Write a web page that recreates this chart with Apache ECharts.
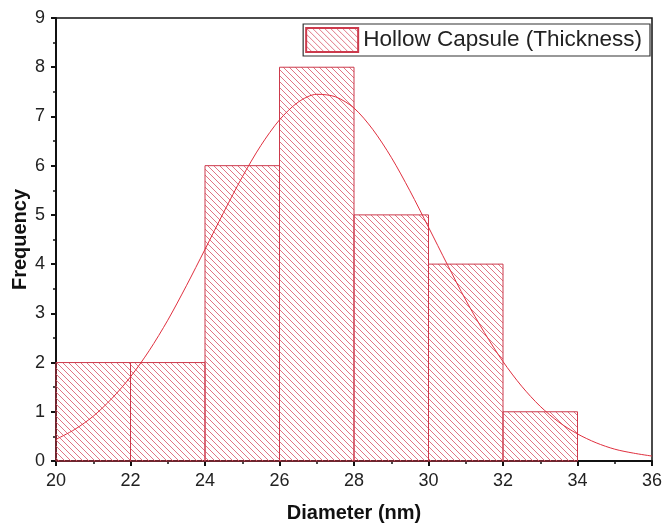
<!DOCTYPE html>
<html>
<head>
<meta charset="utf-8">
<script src="https://cdn.jsdelivr.net/npm/echarts@6/dist/echarts.min.js"></script>
<style>
  html, body { margin: 0; padding: 0; background: #fff; }
  #chart { width: 666px; height: 530px; }
</style>
</head>
<body>
<div id="chart"></div>
<script>
// Histogram bins (nm) and counts
const binStarts = [20, 22, 24, 26, 28, 30, 32];
const binWidth = 2;
const counts = [2, 2, 6, 8, 5, 4, 1];

// Gaussian fit curve, sampled along the diameter axis
const fitX = [20, 20.5, 21, 21.5, 22, 22.5, 23, 23.5, 24, 24.5, 25, 25.5, 26, 26.5, 27, 27.5,
              28, 28.5, 29, 29.5, 30, 30.5, 31, 31.5, 32, 32.5, 33, 33.5, 34, 34.5, 35, 35.5, 36];
const fitY = [0.44, 0.64, 0.91, 1.27, 1.71, 2.24, 2.86, 3.56, 4.30, 5.05, 5.77, 6.41, 6.93, 7.29, 7.45, 7.40,
              7.17, 6.74, 6.17, 5.49, 4.75, 4.00, 3.27, 2.61, 2.02, 1.52, 1.11, 0.79, 0.55, 0.37, 0.24, 0.16, 0.10];

const xTicks = { min: 20, max: 36, interval: 2 };
const yTicks = { min: 0, max: 9, interval: 1 };

const seriesName = 'Hollow Capsule (Thickness)';

// Diagonal hatch tile for the bars
function makeHatch() {
  const c = document.createElement('canvas');
  const s = 6;
  c.width = s; c.height = s;
  const g = c.getContext('2d');
  g.strokeStyle = 'rgba(222,110,125,0.95)';
  g.lineWidth = 1;
  g.beginPath();
  g.moveTo(-1, -1); g.lineTo(s + 1, s + 1);
  g.moveTo(-1, s - 1); g.lineTo(1, s + 1);
  g.moveTo(s - 1, -1); g.lineTo(s + 1, 1);
  g.stroke();
  return c;
}
const hatch = { image: makeHatch(), repeat: 'repeat' };

const barData = binStarts.map((x, i) => [x, x + binWidth, counts[i]]);
const fitData = fitX.map((x, i) => [x, fitY[i]]);

const chart = echarts.init(document.getElementById('chart'), null, { renderer: 'canvas' });

const fontFamily = 'Liberation Sans, Arial, sans-serif';
const axisText = { color: '#222', fontSize: 18, fontFamily: fontFamily };
const nameText = { color: '#111', fontSize: 20, fontWeight: 'bold', fontFamily: fontFamily };

chart.setOption({
  animation: false,
  backgroundColor: '#fff',
  grid: {
    left: 56, right: 14, top: 18, bottom: 69,
    outerBoundsMode: 'none',
    containLabel: false,
    show: true, borderColor: '#111', borderWidth: 1.5, backgroundColor: 'transparent'
  },
  legend: {
    data: [{ name: seriesName, icon: 'rect' }],
    right: 16, top: 24,
    orient: 'horizontal',
    padding: [3, 8, 3, 2],
    itemWidth: 52, itemHeight: 24,
    borderColor: '#333', borderWidth: 1.2,
    backgroundColor: '#fff',
    textStyle: { fontSize: 22.5, color: '#222', fontFamily: fontFamily }
  },
  xAxis: {
    type: 'value',
    min: xTicks.min, max: xTicks.max, interval: xTicks.interval,
    name: 'Diameter (nm)', nameLocation: 'middle', nameGap: 42,
    nameMoveOverlap: false,
    nameTextStyle: nameText,
    axisLine: { show: true, onZero: false, lineStyle: { color: '#111', width: 2 } },
    axisTick: { show: true, inside: false, length: 5, lineStyle: { color: '#111', width: 2 } },
    minorTick: { show: true, splitNumber: 2, length: 3, lineStyle: { color: '#111', width: 1.5 } },
    axisLabel: Object.assign({ margin: 11 }, axisText),
    splitLine: { show: false }
  },
  yAxis: {
    type: 'value',
    min: yTicks.min, max: yTicks.max, interval: yTicks.interval,
    name: 'Frequency', nameLocation: 'middle', nameGap: 26,
    nameMoveOverlap: false,
    nameTextStyle: nameText,
    axisLine: { show: true, onZero: false, lineStyle: { color: '#111', width: 2 } },
    axisTick: { show: true, inside: false, length: 5, lineStyle: { color: '#111', width: 2 } },
    minorTick: { show: true, splitNumber: 2, length: 3, lineStyle: { color: '#111', width: 1.5 } },
    axisLabel: Object.assign({ margin: 11 }, axisText),
    splitLine: { show: false }
  },
  series: [
    {
      name: seriesName,
      type: 'custom',
      itemStyle: { color: hatch, borderColor: '#cc3a4c', borderWidth: 1 },
      data: barData,
      encode: { x: [0, 1], y: 2 },
      renderItem: function (params, api) {
        const p0 = api.coord([api.value(0), 0]);
        const p1 = api.coord([api.value(1), api.value(2)]);
        return {
          type: 'rect',
          shape: { x: p0[0], y: p1[1], width: p1[0] - p0[0], height: p0[1] - p1[1] },
          style: { fill: hatch, stroke: '#cc3a4c', lineWidth: 1 }
        };
      },
      z: 2
    },
    {
      name: 'Fit',
      type: 'line',
      data: fitData,
      smooth: 0.3,
      showSymbol: false,
      lineStyle: { color: '#e0303f', width: 1 },
      z: 3
    }
  ]
});
</script>
</body>
</html>
